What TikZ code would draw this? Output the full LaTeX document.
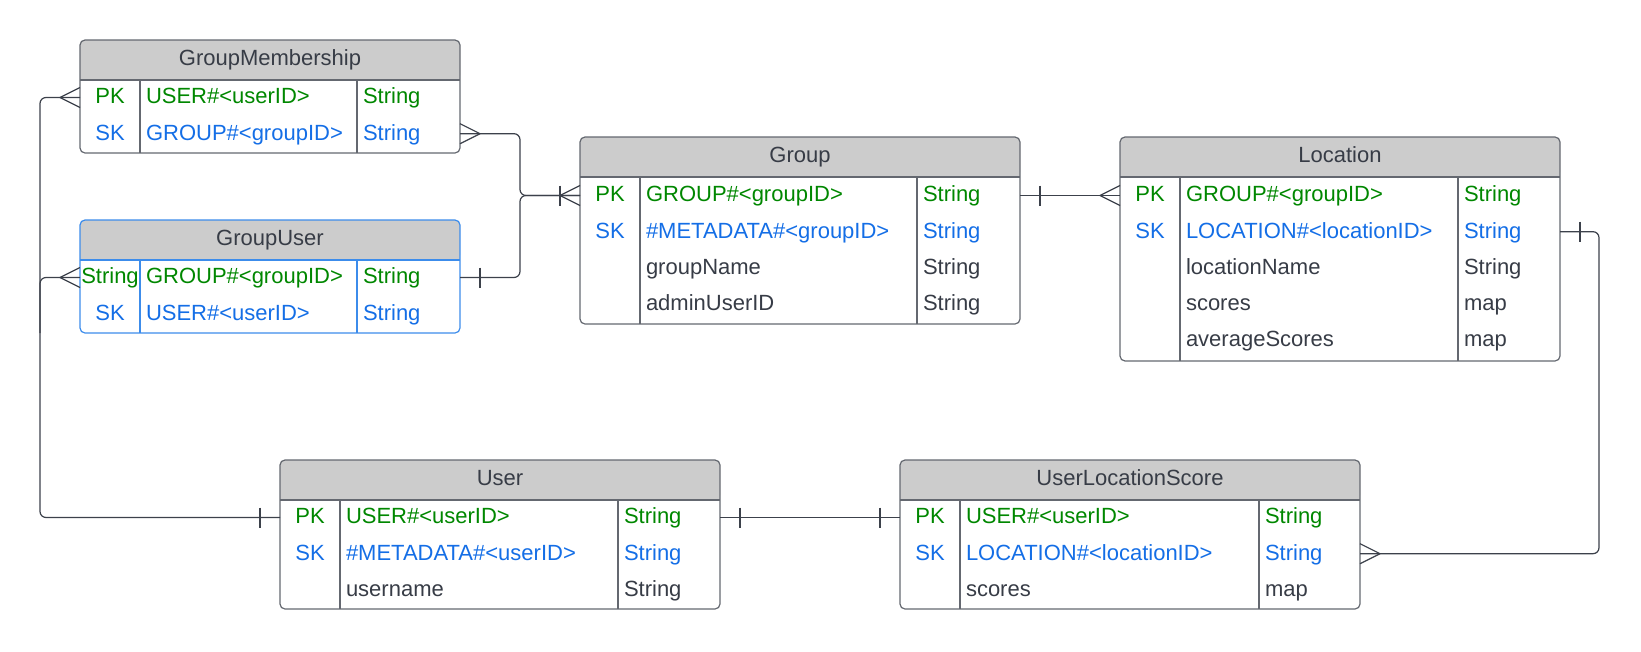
\documentclass[tikz,border=0pt]{standalone}
\usepackage{fontspec}
\setmainfont{Liberation Sans}
\usetikzlibrary{fit}
\definecolor{pkgreen}{RGB}{0,135,0}
\definecolor{skblue}{RGB}{20,110,230}
\definecolor{txt}{RGB}{55,60,70}
\definecolor{headfill}{RGB}{204,204,204}
\definecolor{bordergray}{RGB}{100,104,112}
\definecolor{gublue}{RGB}{60,140,235}
\definecolor{connc}{RGB}{60,65,75}
\tikzset{
  tabline/.style={line width=1.2pt},
  conn/.style={draw=connc, line width=1.2pt},
  cell/.style={inner sep=0pt, outer sep=0pt, font=\fontsize{22}{26}\selectfont},
  titletext/.style={inner sep=0pt, text=txt, font=\fontsize{22}{26}\selectfont},
}
% #1 name #2 x1 #3 top #4 x2 #5 bottom #6 div1 #7 div2 #8 title #9 border colour
\newcommand{\ertable}[9]{%
  \node[fit={(#2,#3) (#4,#5)}, inner sep=0pt, outer sep=0pt] (#1) {};
  \fill[headfill, rounded corners=5pt] (#2,#3) rectangle (#4,#3+40);
  \fill[headfill] (#2,#3+20) rectangle (#4,#3+40);
  \draw[tabline, draw=#9, rounded corners=5pt] (#2,#3) rectangle (#4,#5);
  \draw[tabline, draw=#9] (#2,#3+40) -- (#4,#3+40) (#6,#3+40) -- (#6,#5) (#7,#3+40) -- (#7,#5);
  \node[titletext, anchor=base] (#1-title) at ({(#2+#4)/2},#3+25.5) {#8};
}
% #1 id #2 keyx #3 namex #4 typex #5 y #6 colour #7 key #8 name #9 type
\newcommand{\errow}[9]{%
  \coordinate (#1) at (#2,#5);
  \node[cell, text=#6, anchor=base] (#1-k) at (#2,#5+6.3) {#7};
  \node[cell, text=#6, anchor=base west] (#1-n) at (#3,#5+6.3) {#8};
  \node[cell, text=#6, anchor=base west] (#1-t) at (#4,#5+6.3) {#9};
}
\newcommand{\crowfoot}[2]{\draw[conn] ([xshift=#2*20pt]#1) -- ([yshift=10pt]#1) ([xshift=#2*20pt]#1) -- ([yshift=-10pt]#1);}
\newcommand{\onebar}[2]{\draw[conn] ([xshift=#2*20pt, yshift=10pt]#1) -- ([xshift=#2*20pt, yshift=-10pt]#1);}
\newcommand{\lt}{\textless}
\newcommand{\gt}{\textgreater}
\begin{document}
\begin{tikzpicture}[x=1pt, y=-1pt]
\useasboundingbox (0,0) rectangle (1641,651);
% tables
\ertable{gm}{80}{40}{460}{153}{140}{357}{GroupMembership}{bordergray}
\errow{gm-pk}{110}{146}{363}{97.5}{pkgreen}{PK}{USER\#\lt userID\gt}{String}
\errow{gm-sk}{110}{146}{363}{133.7}{skblue}{SK}{GROUP\#\lt groupID\gt}{String}

\ertable{gu}{80}{220}{460}{333}{140}{357}{GroupUser}{gublue}
\errow{gu-pk}{110}{146}{363}{277.5}{pkgreen}{String}{GROUP\#\lt groupID\gt}{String}
\errow{gu-sk}{110}{146}{363}{313.7}{skblue}{SK}{USER\#\lt userID\gt}{String}

\ertable{gr}{580}{137}{1020}{324}{640}{917}{Group}{bordergray}
\errow{gr-pk}{610}{646}{923}{195.5}{pkgreen}{PK}{GROUP\#\lt groupID\gt}{String}
\errow{gr-sk}{610}{646}{923}{231.7}{skblue}{SK}{\#METADATA\#\lt groupID\gt}{String}
\errow{gr-r3}{610}{646}{923}{267.9}{txt}{}{groupName}{String}
\errow{gr-r4}{610}{646}{923}{304.1}{txt}{}{adminUserID}{String}

\ertable{lo}{1120}{137}{1560}{361}{1180}{1458}{Location}{bordergray}
\errow{lo-pk}{1150}{1186}{1464}{195.5}{pkgreen}{PK}{GROUP\#\lt groupID\gt}{String}
\errow{lo-sk}{1150}{1186}{1464}{231.7}{skblue}{SK}{LOCATION\#\lt locationID\gt}{String}
\errow{lo-r3}{1150}{1186}{1464}{267.9}{txt}{}{locationName}{String}
\errow{lo-r4}{1150}{1186}{1464}{304.1}{txt}{}{scores}{map}
\errow{lo-r5}{1150}{1186}{1464}{340.3}{txt}{}{averageScores}{map}

\ertable{us}{280}{460}{720}{609}{340}{618}{User}{bordergray}
\errow{us-pk}{310}{346}{624}{517.5}{pkgreen}{PK}{USER\#\lt userID\gt}{String}
\errow{us-sk}{310}{346}{624}{553.7}{skblue}{SK}{\#METADATA\#\lt userID\gt}{String}
\errow{us-r3}{310}{346}{624}{589.9}{txt}{}{username}{String}

\ertable{ul}{900}{460}{1360}{609}{960}{1259}{UserLocationScore}{bordergray}
\errow{ul-pk}{930}{966}{1265}{517.5}{pkgreen}{PK}{USER\#\lt userID\gt}{String}
\errow{ul-sk}{930}{966}{1265}{553.7}{skblue}{SK}{LOCATION\#\lt locationID\gt}{String}
\errow{ul-r3}{930}{966}{1265}{589.9}{txt}{}{scores}{map}

% buses
\coordinate (lbus) at (40,0);
\coordinate (mbus) at (520,0);
\coordinate (rbus) at (1599,0);
% end points
\coordinate (e1) at (gm.west |- gm-pk);
\coordinate (e2) at (us.west |- us-pk);
\coordinate (e3) at (gu.west |- gu-pk);
\coordinate (e4) at (gm.east |- gm-sk);
\coordinate (e5) at (gr.west |- gr-pk);
\coordinate (e6) at (gu.east |- gu-pk);
\coordinate (e7) at (gr.east |- gr-pk);
\coordinate (e8) at (lo.west |- lo-pk);
\coordinate (e9) at (lo.east |- lo-sk);
\coordinate (e10) at (ul.east |- ul-sk);
\coordinate (e11) at (us.east |- us-pk);
\coordinate (e12) at (ul.west |- ul-pk);
% connectors
\draw[conn, rounded corners=6pt] (e1) -- (lbus |- e1) -- (lbus |- e2) -- (e2);
\draw[conn, rounded corners=6pt] (e3) -- (lbus |- e3) -- (lbus |- gu.south);
\draw[conn, rounded corners=6pt] (e4) -- (mbus |- e4) -- (mbus |- e5) -- (e5);
\draw[conn, rounded corners=6pt] (e6) -- (mbus |- e6) -- (mbus |- e5) -- (e5);
\draw[conn] (e7) -- (e8);
\draw[conn, rounded corners=6pt] (e9) -- (rbus |- e9) -- (rbus |- e10) -- (e10);
\draw[conn] (e11) -- (e12);
% ends
\crowfoot{e1}{-1}
\onebar{e2}{-1}
\crowfoot{e3}{-1}
\crowfoot{e4}{1}
\crowfoot{e5}{-1}
\onebar{e5}{-1}
\onebar{e6}{1}
\onebar{e7}{1}
\crowfoot{e8}{-1}
\onebar{e9}{1}
\crowfoot{e10}{1}
\onebar{e11}{1}
\onebar{e12}{-1}
\end{tikzpicture}
\end{document}
